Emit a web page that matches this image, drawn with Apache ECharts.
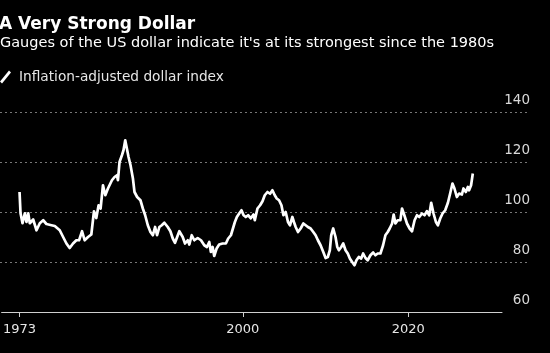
<!DOCTYPE html>
<html>
<head>
<meta charset="utf-8">
<script src="https://cdn.jsdelivr.net/npm/echarts@6/dist/echarts.min.js"></script>
<style>
  html, body { margin: 0; padding: 0; background: #000; }
  #chart-container { width: 550px; height: 353px; }
</style>
</head>
<body>
<div id="chart-container"></div>
<script>
// positions along the time axis (decimal years)
const t = [
  1973.00, 1973.12, 1973.36, 1973.64, 1973.84, 1974.05, 1974.24, 1974.65, 1975.05, 1975.45,
  1975.86, 1976.25, 1976.86, 1977.26, 1977.86, 1978.27, 1978.67, 1979.06, 1979.47, 1979.87,
  1980.20, 1980.56, 1980.87, 1981.28, 1981.68, 1982.00, 1982.28, 1982.56, 1982.80, 1983.09,
  1983.37, 1983.69, 1983.88, 1984.17, 1984.49, 1984.78, 1984.90, 1985.09, 1985.38, 1985.57,
  1985.78, 1986.02, 1986.18, 1986.42, 1986.71, 1986.90, 1987.22, 1987.62, 1987.91, 1988.19,
  1988.51, 1988.83, 1989.12, 1989.39, 1989.63, 1989.91, 1990.20, 1990.51, 1990.92, 1991.24,
  1991.53, 1991.80, 1992.32, 1992.73, 1993.01, 1993.34, 1993.53, 1993.82, 1994.13, 1994.54,
  1994.94, 1995.34, 1995.66, 1995.94, 1996.14, 1996.35, 1996.54, 1996.83, 1997.14, 1997.55,
  1997.95, 1998.23, 1998.56, 1998.76, 1999.04, 1999.28, 1999.56, 1999.84, 2000.09, 2000.36,
  2000.64, 2000.97, 2001.29, 2001.45, 2001.77, 2002.09, 2002.38, 2002.65, 2002.98, 2003.29,
  2003.58, 2003.86, 2004.10, 2004.38, 2004.67, 2004.91, 2005.18, 2005.46, 2005.70, 2005.99,
  2006.18, 2006.39, 2006.67, 2006.99, 2007.32, 2007.60, 2007.87, 2008.20, 2008.52, 2008.80,
  2009.08, 2009.40, 2009.73, 2010.01, 2010.28, 2010.52, 2010.69, 2010.93, 2011.21, 2011.42,
  2011.61, 2011.90, 2012.14, 2012.42, 2012.69, 2012.94, 2013.22, 2013.50, 2013.74, 2014.02,
  2014.31, 2014.55, 2014.83, 2015.10, 2015.43, 2015.76, 2016.03, 2016.31, 2016.64, 2016.96,
  2017.24, 2017.52, 2017.76, 2018.05, 2018.24, 2018.45, 2018.72, 2019.05, 2019.25, 2019.53,
  2019.85, 2020.17, 2020.46, 2020.77, 2021.06, 2021.34, 2021.66, 2021.97, 2022.26, 2022.54,
  2022.78, 2023.06, 2023.35, 2023.59, 2023.87, 2024.15, 2024.47, 2024.80, 2025.07, 2025.35,
  2025.59, 2025.88, 2026.16, 2026.49, 2026.68, 2026.97, 2027.21, 2027.36, 2027.60, 2027.81
];

// inflation-adjusted dollar index
const index = [
  108.0, 99.5, 95.5, 99.5, 96.0, 99.5, 95.5, 97.0, 92.7, 95.5,
  96.7, 95.2, 94.7, 94.4, 92.7, 90.0, 87.4, 85.6, 87.4, 88.7,
  88.7, 92.3, 88.7, 90.0, 91.0, 100.3, 97.6, 102.7, 101.4, 110.7,
  106.7, 109.4, 108.7, 112.7, 114.0, 114.7, 112.7, 120.0, 122.7, 124.7,
  128.7, 124.7, 122.0, 118.7, 113.4, 108.0, 106.0, 104.7, 101.4, 98.7,
  94.7, 92.0, 90.7, 94.0, 90.7, 94.0, 94.7, 95.7, 94.0, 92.3,
  89.4, 87.7, 92.3, 90.0, 87.4, 88.7, 87.0, 90.7, 88.7, 89.6,
  88.7, 86.7, 86.0, 88.0, 84.0, 86.0, 82.4, 85.4, 87.0, 87.4,
  87.4, 89.4, 90.7, 91.4, 96.0, 98.0, 99.4, 100.7, 98.7, 98.0,
  98.7, 97.5, 99.0, 96.7, 101.4, 102.7, 104.3, 106.7, 108.0, 107.3,
  108.7, 106.7, 105.4, 104.7, 102.7, 98.7, 100.0, 96.0, 94.7, 98.0,
  96.0, 94.0, 92.0, 93.4, 95.4, 94.7, 94.0, 93.4, 92.0, 90.7,
  88.7, 86.7, 84.0, 81.6, 82.0, 84.7, 90.7, 93.4, 90.0, 86.0,
  84.7, 86.0, 87.4, 84.7, 83.4, 81.4, 80.0, 78.7, 80.7, 82.0,
  81.4, 83.4, 81.6, 80.7, 82.7, 83.8, 82.7, 83.4, 83.4, 86.7,
  90.7, 92.0, 93.4, 95.4, 99.0, 95.4, 96.7, 96.7, 101.4, 98.7,
  95.4, 93.4, 92.3, 96.7, 98.7, 98.0, 99.4, 98.7, 100.3, 98.7,
  103.7, 99.4, 96.0, 94.7, 97.4, 99.4, 100.7, 103.7, 107.4, 111.4,
  109.4, 106.0, 107.4, 107.0, 109.4, 108.0, 110.0, 108.7, 110.7, 115.4
];

const tickYears = [1973, 2000, 2020];
const yTicks = [60, 80, 100, 120, 140];

const seriesData = t.map((v, i) => [v, index[i]]);

const myChart = echarts.init(document.getElementById('chart-container'));
const option = {
  backgroundColor: '#000',
  animation: false,
  textStyle: { fontFamily: 'DejaVu Sans' },
  title: [
    {
      text: 'A Very Strong Dollar',
      left: -1, top: 16, padding: 0,
      textStyle: { color: '#fff', fontSize: 17, fontWeight: 'bold', fontFamily: 'DejaVu Sans' }
    },
    {
      text: "Gauges of the US dollar indicate it's at its strongest since the 1980s",
      left: 0, top: 36, padding: 0,
      textStyle: { color: '#fff', fontSize: 14.5, fontWeight: 'normal', fontFamily: 'DejaVu Sans' }
    }
  ],
  legend: {
    left: 0, top: 70, padding: 0,
    itemWidth: 11, itemHeight: 13,
    icon: 'path://M9,0 L11,2 L2,13 L0,11 Z',
    textStyle: { color: '#e6e6e6', fontSize: 13.7, fontFamily: 'DejaVu Sans', padding: [0, 0, 0, 3] },
    data: ['Inflation-adjusted dollar index']
  },
  grid: [
    { left: 0, right: 22, top: 112, bottom: 41 },
    { left: 0, right: 48, top: 112, bottom: 41 }
  ],
  xAxis: [
    { gridIndex: 0, type: 'value', min: 0, max: 1, show: false },
    {
      gridIndex: 1, type: 'value', min: 1970.83, max: 2031.34,
      splitLine: { show: false },
      axisLine: { lineStyle: { color: '#cfcfcf', width: 1 } },
      axisTick: { customValues: tickYears, length: 5, lineStyle: { color: '#cfcfcf' } },
      axisLabel: {
        customValues: tickYears, color: '#e6e6e6', fontSize: 13, margin: 11,
        formatter: v => String(v)
      }
    }
  ],
  yAxis: [
    {
      gridIndex: 0, type: 'value', position: 'right',
      min: 60, max: 140, interval: 20,
      axisLine: { show: false }, axisTick: { show: false },
      splitLine: { showMinLine: false, lineStyle: { color: '#777', type: [2, 3], width: 1 } },
      axisLabel: {
        inside: true, color: '#d9d9d9', fontSize: 13.5, margin: -2,
        verticalAlign: 'bottom', padding: [0, 0, 5, 0],
        customValues: yTicks
      }
    },
    { gridIndex: 1, type: 'value', min: 60, max: 140, show: false }
  ],
  series: [{
    name: 'Inflation-adjusted dollar index',
    type: 'line',
    xAxisIndex: 1, yAxisIndex: 1,
    data: seriesData,
    showSymbol: false,
    color: '#fff',
    lineStyle: { color: '#fff', width: 2.7, join: 'round' }
  }]
};
myChart.setOption(option);
</script>
</body>
</html>
